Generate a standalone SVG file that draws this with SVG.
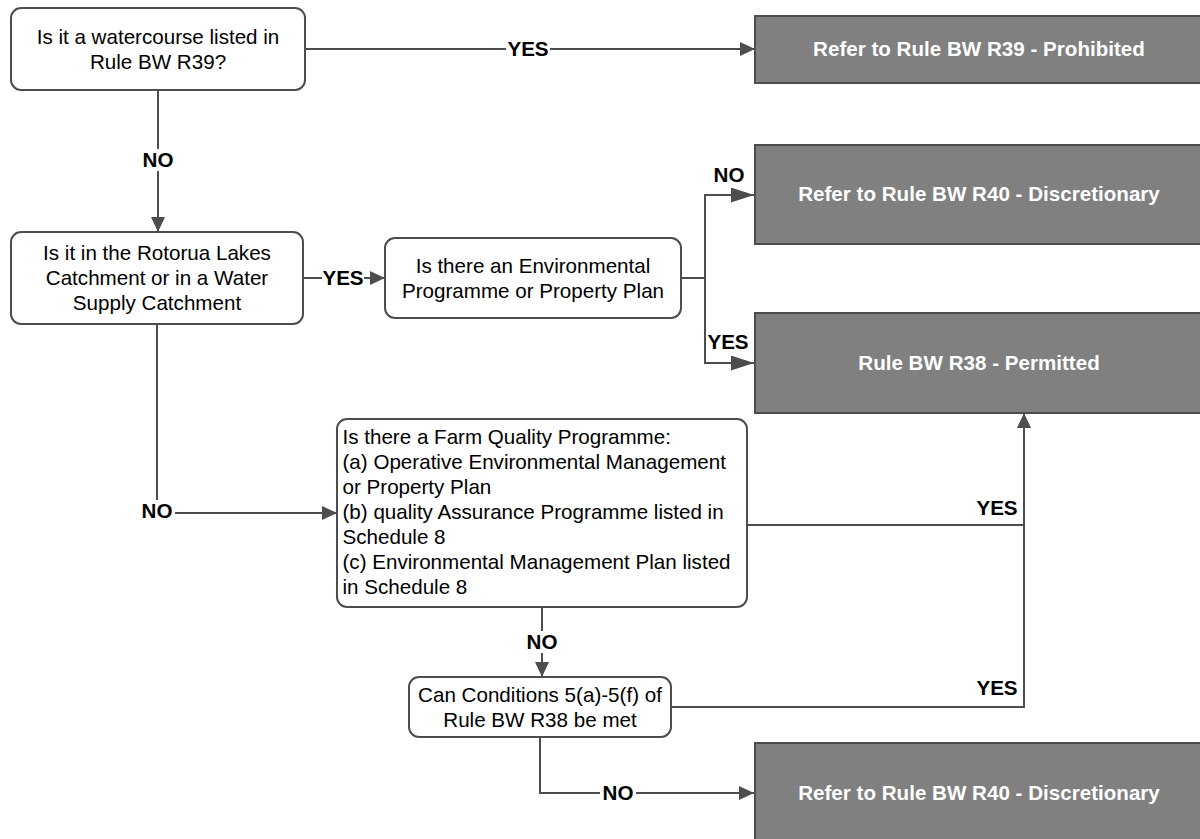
<svg xmlns="http://www.w3.org/2000/svg" width="1200" height="839" viewBox="0 0 1200 839">
<defs>
<style>
text{font-family:"Liberation Sans",Arial,Helvetica,sans-serif;font-size:20.6px;}
.q rect{fill:#fff;stroke:#4d4d4d;stroke-width:2;}
.q text{fill:#000;text-anchor:middle;}
.q text.l{text-anchor:start;}
.r rect{fill:#808080;stroke:#4d4d4d;stroke-width:2;}
.r text{fill:#fff;font-weight:bold;text-anchor:middle;}
.c path{fill:none;stroke:#4d4d4d;stroke-width:2;}
.lbl{font-weight:bold;fill:#000;text-anchor:middle;}
.bg{fill:#fff;}
</style>
<marker id="a" markerUnits="userSpaceOnUse" markerWidth="15" markerHeight="14" refX="15" refY="7" orient="auto"><path d="M0,0 L15,7 L0,14 z" fill="#4d4d4d"/></marker>
<marker id="b" markerUnits="userSpaceOnUse" markerWidth="23" markerHeight="15" refX="23" refY="7.5" orient="auto"><path d="M0,0 L23,7.5 L0,15 z" fill="#4d4d4d"/></marker>
</defs>
<rect width="1200" height="839" fill="#fff"/>
<g class="c" id="connectors">
<path d="M305,49 H755" marker-end="url(#a)"/>
<path d="M158,90 V232" marker-end="url(#a)"/>
<path d="M303,278 H385" marker-end="url(#a)"/>
<path d="M681,278 H705 V195 H754" marker-end="url(#b)"/>
<path d="M705,278 V363 H754" marker-end="url(#b)"/>
<path d="M157,324 V513 H337" marker-end="url(#a)"/>
<path d="M747,525 H1024 V413" marker-end="url(#a)"/>
<path d="M542,607 V677" marker-end="url(#a)"/>
<path d="M671,707 H1024 V525"/>
<path d="M540,737 V793 H754" marker-end="url(#a)"/>
<rect class="bg" x="506" y="38" width="44" height="22"/>
<text class="lbl" x="528" y="56.4">YES</text>
<rect class="bg" x="140" y="149" width="36" height="22"/>
<text class="lbl" x="158" y="167.4">NO</text>
<rect class="bg" x="322" y="267" width="42" height="22"/>
<text class="lbl" x="343" y="285.4">YES</text>
<text class="lbl" x="729" y="182.4">NO</text>
<text class="lbl" x="728" y="349.4">YES</text>
<rect class="bg" x="139" y="500" width="36" height="22"/>
<text class="lbl" x="157" y="518.4">NO</text>
<text class="lbl" x="997" y="515.4">YES</text>
<rect class="bg" x="524" y="631" width="36" height="22"/>
<text class="lbl" x="542" y="649.4">NO</text>
<text class="lbl" x="997" y="695.4">YES</text>
<rect class="bg" x="600" y="782" width="36" height="22"/>
<text class="lbl" x="618" y="800.4">NO</text>
</g>
<g class="q" id="q1">
<rect x="11" y="8" width="294" height="82" rx="10"/>
<text x="158" y="43.9">Is it a watercourse listed in</text>
<text x="158" y="68.9">Rule BW R39?</text>
</g>
<g class="r" id="r39">
<rect x="755" y="16" width="448" height="67"/>
<text x="979" y="56.4">Refer to Rule BW R39 - Prohibited</text>
</g>
<g class="q" id="q2">
<rect x="11" y="232" width="292" height="92" rx="10"/>
<text x="157" y="260.4">Is it in the Rotorua Lakes</text>
<text x="157" y="285.4">Catchment or in a Water</text>
<text x="157" y="310.4">Supply Catchment</text>
</g>
<g class="q" id="q3">
<rect x="385" y="238" width="296" height="80" rx="10"/>
<text x="533" y="272.9">Is there an Environmental</text>
<text x="533" y="297.9">Programme or Property Plan</text>
</g>
<g class="r" id="r40a">
<rect x="755" y="145" width="448" height="99"/>
<text x="979" y="201.4">Refer to Rule BW R40 - Discretionary</text>
</g>
<g class="r" id="r38">
<rect x="755" y="313" width="448" height="100"/>
<text x="979" y="370.4">Rule BW R38 - Permitted</text>
</g>
<g class="q" id="q4">
<rect x="337" y="419" width="410" height="188" rx="10"/>
<text class="l" x="342.5" y="444.4">Is there a Farm Quality Programme:</text>
<text class="l" x="342.5" y="469.4">(a) Operative Environmental Management</text>
<text class="l" x="342.5" y="494.4">or Property Plan</text>
<text class="l" x="342.5" y="519.4">(b) quality Assurance Programme listed in</text>
<text class="l" x="342.5" y="544.4">Schedule 8</text>
<text class="l" x="342.5" y="569.4">(c) Environmental Management Plan listed</text>
<text class="l" x="342.5" y="594.4">in Schedule 8</text>
</g>
<g class="q" id="q5">
<rect x="409" y="677" width="262" height="60" rx="10"/>
<text x="540" y="702.4">Can Conditions 5(a)-5(f) of</text>
<text x="540" y="727.4">Rule BW R38 be met</text>
</g>
<g class="r" id="r40b">
<rect x="755" y="743" width="448" height="100"/>
<text x="979" y="800.4">Refer to Rule BW R40 - Discretionary</text>
</g>
</svg>
